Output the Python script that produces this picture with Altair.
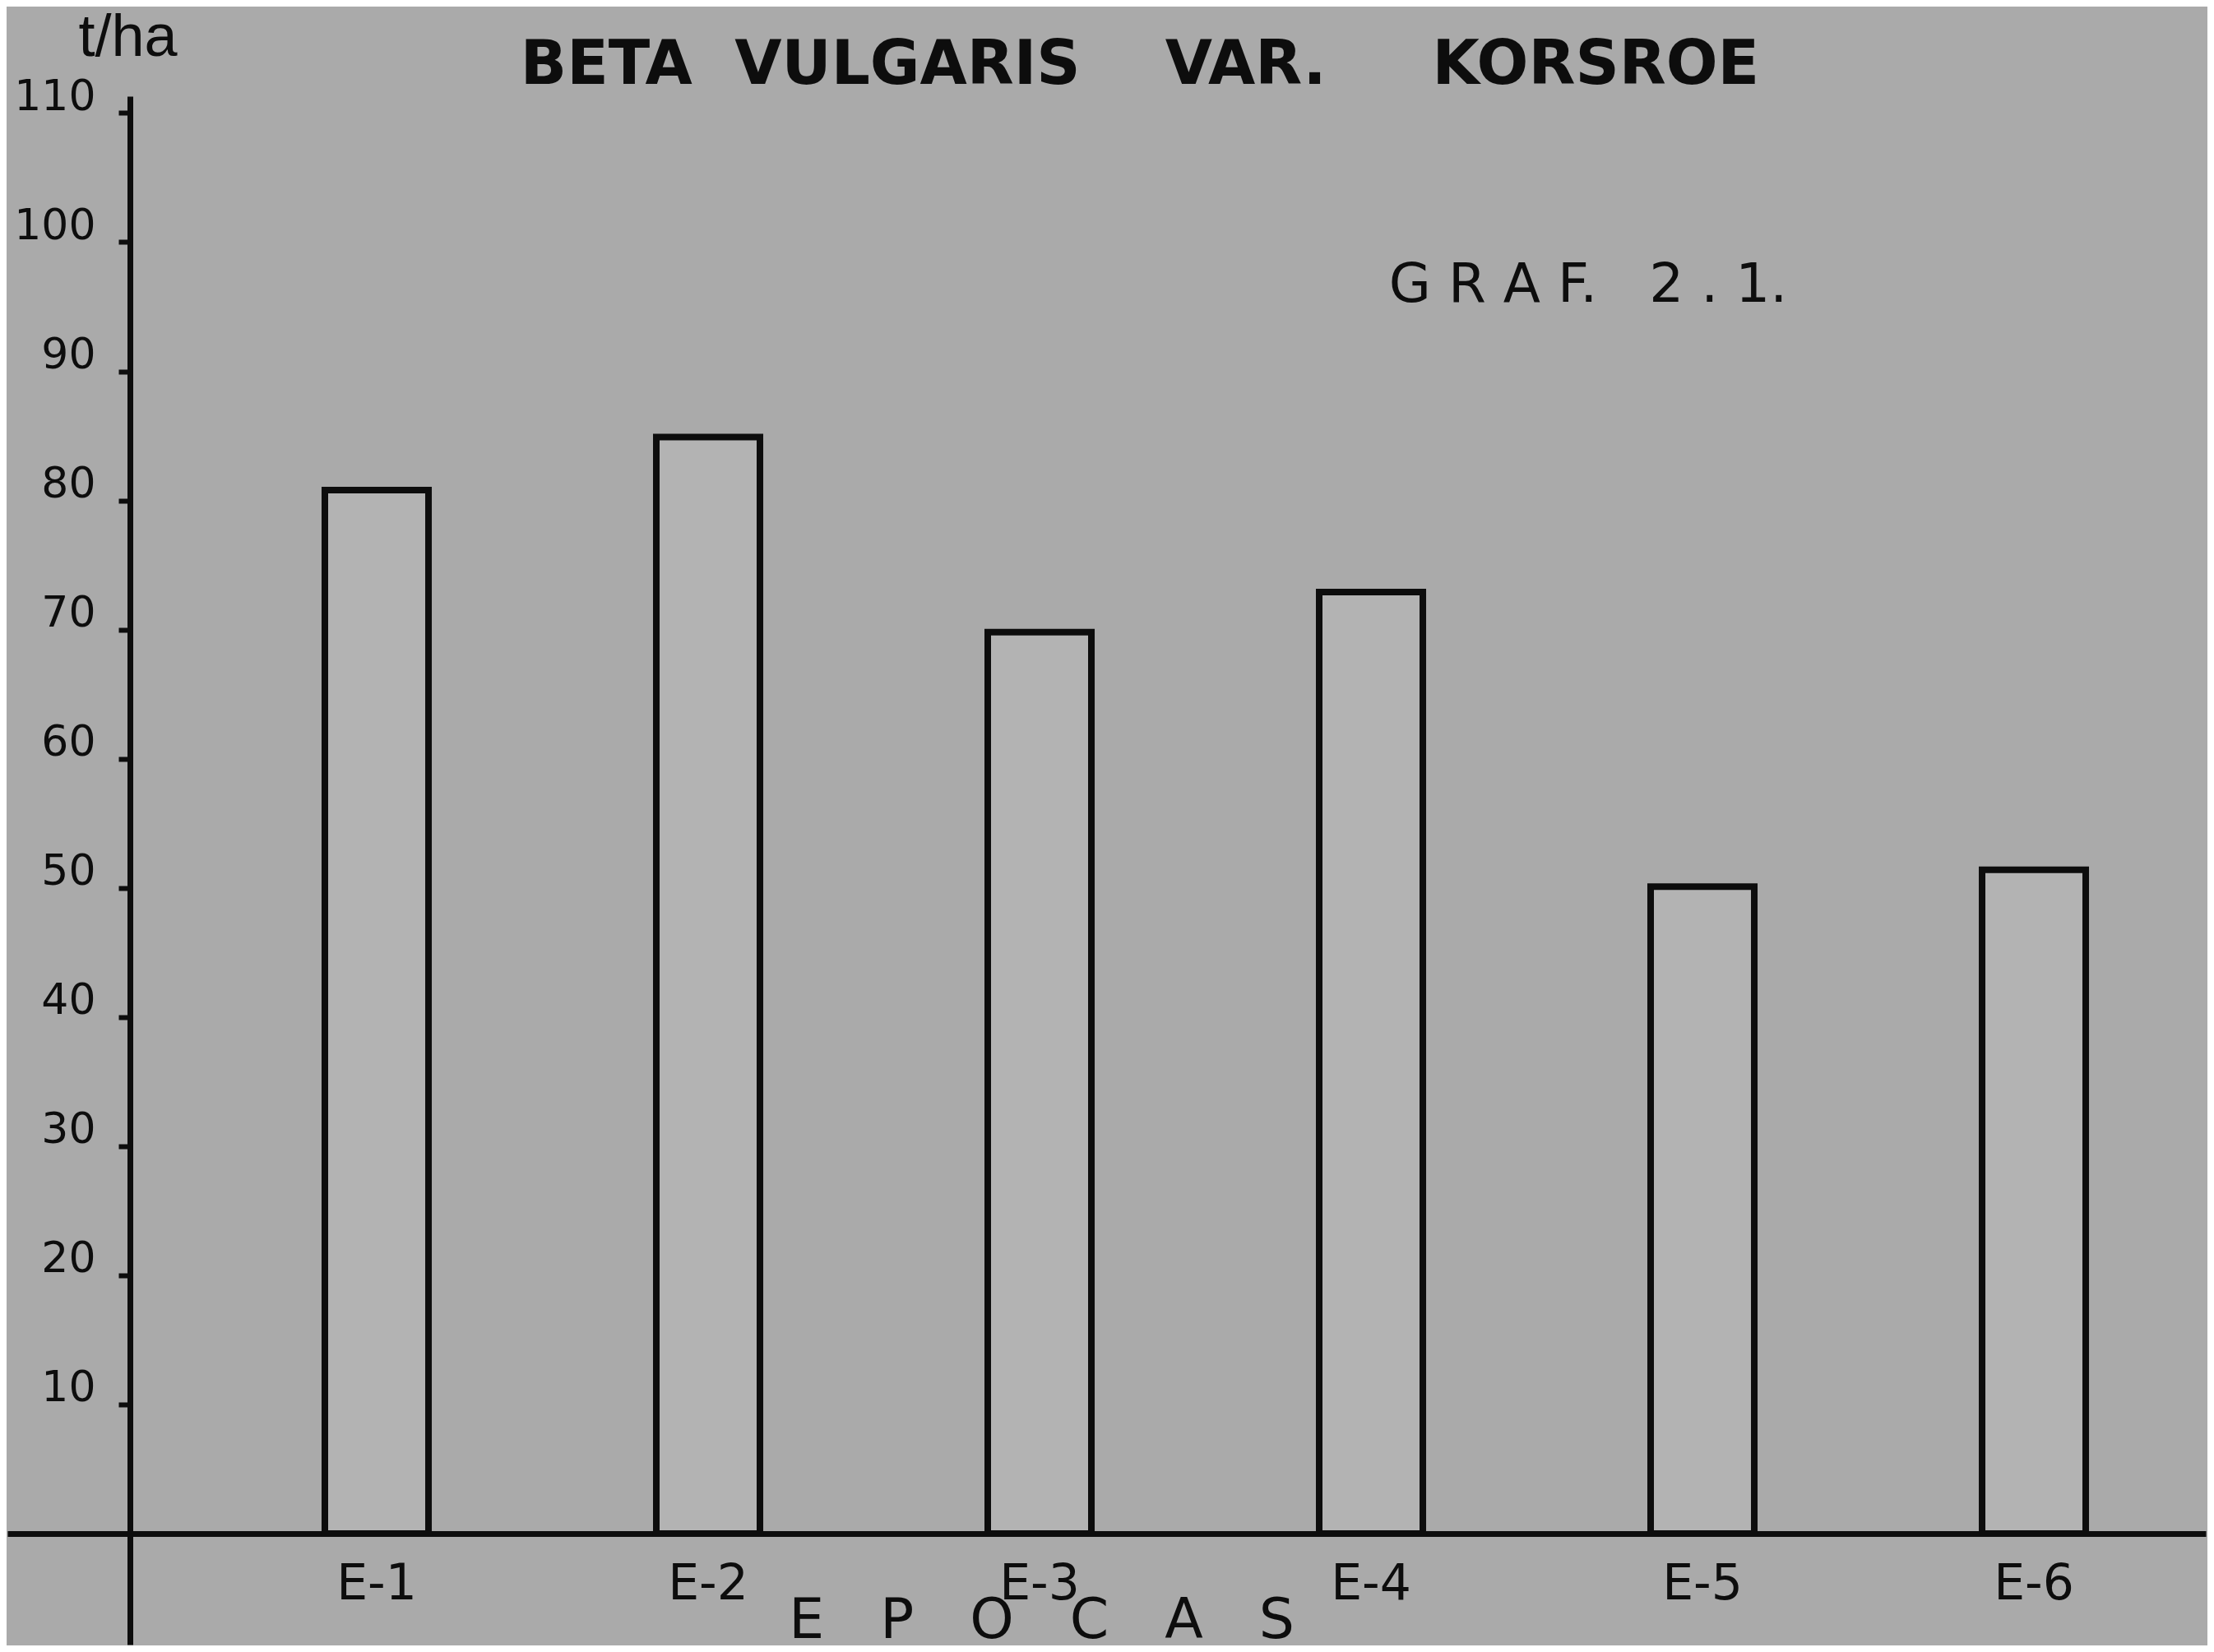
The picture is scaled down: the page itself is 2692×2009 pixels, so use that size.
import altair as alt
import pandas as pd

# ---- data ----
epocas = ["E-1", "E-2", "E-3", "E-4", "E-5", "E-6"]
rendimiento = [80.8, 84.9, 69.8, 72.9, 50.1, 51.4]   # t/ha
y_ticks = [10, 20, 30, 40, 50, 60, 70, 80, 90, 100, 110]

title_text = ["BETA\u00a0\u00a0VULGARIS\u00a0\u00a0\u00a0\u00a0VAR.\u00a0\u00a0\u00a0\u00a0\u00a0KORSROE"]
graf_text = ["G\u00a0R\u00a0A\u00a0F.\u00a0\u00a0\u00a02\u00a0.\u00a01."]
x_title = "E\u2003P\u2003O\u2003C\u2003A\u2003S"
y_title = "t/ha"

df = pd.DataFrame({"epoca": epocas, "t_ha": rendimiento})
df_graf = pd.DataFrame({"txt": graf_text})
df_title = pd.DataFrame({"txt": title_text})

W, H = 2673, 1883
INK = "#0d0d0d"

bars = alt.Chart(df).mark_bar(
    fill="#b3b3b3", stroke=INK, strokeWidth=8, strokeJoin="miter"
).encode(
    x=alt.X(
        "epoca:N", sort=epocas,
        scale=alt.Scale(paddingInner=0.6873, paddingOuter=0.66, align=0.7256),
        axis=alt.Axis(
            title=x_title, titleX=1257, titleY=106, titleAlign="center",
            titleBaseline="middle", titleFont="DejaVu Sans", titleFontSize=68,
            titleFontWeight="normal", titleColor=INK,
            labelAngle=0, labelFont="DejaVu Sans", labelFontSize=60,
            labelColor=INK, labelPadding=32, labelBaseline="top",
            ticks=False, tickSize=0, domainColor=INK, domainWidth=7,
            offset=-135, grid=False,
        ),
    ),
    y=alt.Y(
        "t_ha:Q",
        scale=alt.Scale(domain=[-8.6, 111.3], nice=False, zero=False),
        axis=alt.Axis(
            values=y_ticks, title=y_title, titleAngle=0, titleX=-3, titleY=-72,
            titleAlign="center", titleBaseline="middle",
            titleFont="Liberation Sans", titleFontSize=72,
            titleFontWeight="normal", titleColor=INK,
            labelFont="DejaVu Sans", labelFontSize=52, labelColor=INK,
            labelPadding=28, labelOffset=-20, labelBaseline="middle",
            labelOverlap=False,
            tickSize=14, tickWidth=6, tickColor=INK,
            domainColor=INK, domainWidth=7, offset=-149, grid=False,
        ),
    ),
    y2=alt.datum(0),
)

graf = alt.Chart(df_graf).mark_text(
    font="DejaVu Sans", fontSize=66, color=INK, align="center", baseline="middle"
).encode(
    text="txt:N",
    x=alt.value(1922),
    y=alt.value(230),
)

heading = alt.Chart(df_title).mark_text(
    font="DejaVu Sans", fontSize=74, fontWeight="bold", color=INK,
    align="center", baseline="middle"
).encode(
    text="txt:N",
    x=alt.value(1377),
    y=alt.value(-37),
)

chart = alt.layer(bars, graf, heading).properties(
    width=W, height=H,
    padding={"left": 1, "top": 109, "right": 2, "bottom": 1},
    autosize=alt.AutoSizeParams(type="none"),
    background="#aaaaaa",
).configure_view(stroke=None)

chart.save("out.html", embed_options={"renderer": "svg", "actions": False})
